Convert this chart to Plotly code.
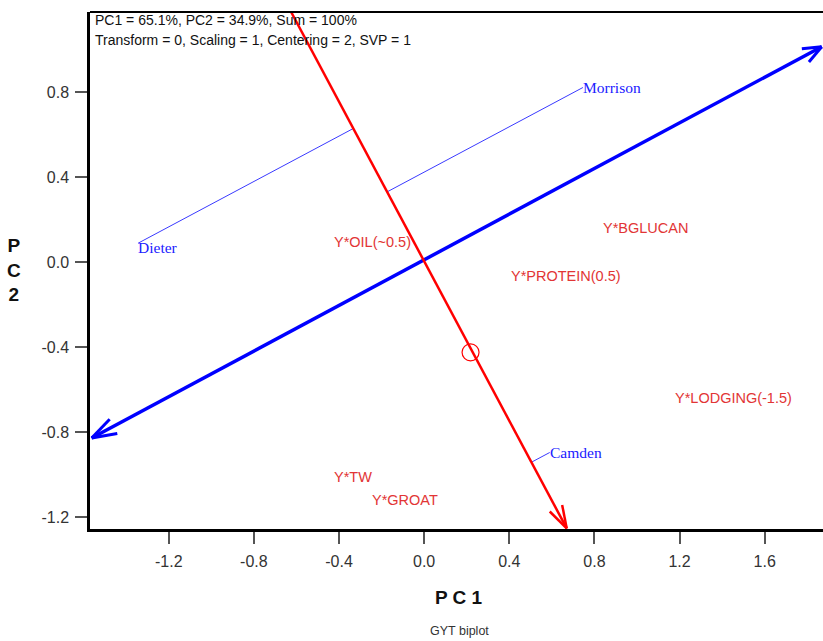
import numpy as np
import plotly.graph_objects as go

# ---------------- data ----------------
genotypes = ["Dieter", "Morrison", "Camden"]
geno_x = [-1.344, 0.746, 0.590]
geno_y = [0.089, 0.821, -0.895]

traits = ["Y*OIL(~0.5)", "Y*BGLUCAN", "Y*PROTEIN(0.5)", "Y*LODGING(-1.5)", "Y*TW", "Y*GROAT"]
trait_x = [-0.245, 1.040, 0.666, 1.454, -0.333, -0.090]
trait_y = [0.095, 0.161, -0.064, -0.639, -1.010, -1.118]

# average tester marker
tester_x = [0.218]
tester_y = [-0.424]

# axis lines (red = ATC abscissa, blue = ATC ordinate)
red_axis_x = [-0.625, 0.670]
red_axis_y = [1.176, -1.252]
blue_axis_x = [-1.562, 1.868]
blue_axis_y = [-0.827, 1.013]

x_ticks = [-1.2, -0.8, -0.4, 0.0, 0.4, 0.8, 1.2, 1.6]
y_ticks = [-1.2, -0.8, -0.4, 0.0, 0.4, 0.8]
x_range = [-1.570, 1.874]
y_range = [-1.2547, 1.176]

info_lines = ["PC1 = 65.1%, PC2 = 34.9%, Sum = 100%",
              "Transform = 0, Scaling = 1, Centering = 2, SVP = 1"]

# ---------------- layout helpers ----------------
W, H = 823, 641
L, R, T, B = 90, 0, 12, 112
PW, PH = W - L - R, H - T - B
SCALE = PW / (x_range[1] - x_range[0])  # px per data unit


def pxx(px):
    return (px - L) / PW


def pxy(py):
    return (H - B - py) / PH


def barbs(tip_x, tip_y, from_x, from_y, length_px, angle_deg):
    d = np.array([from_x - tip_x, from_y - tip_y], dtype=float)
    d /= np.linalg.norm(d)
    out_x, out_y = [], []
    for s in (1, -1):
        a = np.radians(angle_deg * s)
        rot = np.array([d[0] * np.cos(a) - d[1] * np.sin(a),
                        d[0] * np.sin(a) + d[1] * np.cos(a)])
        p = np.array([tip_x, tip_y]) + rot * length_px / SCALE
        out_x += [tip_x, p[0], None]
        out_y += [tip_y, p[1], None]
    return out_x, out_y


fig = go.Figure()

# projections of genotypes onto red axis
dvec = np.array([red_axis_x[1] - red_axis_x[0], red_axis_y[1] - red_axis_y[0]])
dvec /= np.linalg.norm(dvec)
p0 = np.array([red_axis_x[0], red_axis_y[0]])
px_, py_ = [], []
for gx, gy in zip(geno_x, geno_y):
    g = np.array([gx, gy])
    foot = p0 + np.dot(g - p0, dvec) * dvec
    px_ += [gx, foot[0], None]
    py_ += [gy, foot[1], None]
fig.add_trace(go.Scatter(x=px_, y=py_, mode="lines",
                         line=dict(color="#3a3aff", width=1), hoverinfo="skip"))

# blue axis with arrowheads at both ends
fig.add_trace(go.Scatter(x=blue_axis_x, y=blue_axis_y, mode="lines",
                         line=dict(color="#0000ff", width=3.5), hoverinfo="skip"))
bx1, by1 = barbs(blue_axis_x[1], blue_axis_y[1], blue_axis_x[0], blue_axis_y[0], 20, 22)
bx2, by2 = barbs(blue_axis_x[0], blue_axis_y[0], blue_axis_x[1], blue_axis_y[1], 26, 18)
fig.add_trace(go.Scatter(x=bx1 + bx2, y=by1 + by2, mode="lines",
                         line=dict(color="#0000ff", width=3), hoverinfo="skip"))

# red axis with arrowhead
fig.add_trace(go.Scatter(x=red_axis_x, y=red_axis_y, mode="lines",
                         line=dict(color="#ff0000", width=2.5), hoverinfo="skip"))
rx, ry = barbs(red_axis_x[1], red_axis_y[1], red_axis_x[0], red_axis_y[0], 24, 17)
fig.add_trace(go.Scatter(x=rx, y=ry, mode="lines",
                         line=dict(color="#ff0000", width=2.5), hoverinfo="skip"))

# tester circle
fig.add_trace(go.Scatter(x=tester_x, y=tester_y, mode="markers",
                         marker=dict(symbol="circle-open", size=17, color="#ff0000",
                                     line=dict(width=1.2, color="#ff0000")),
                         hoverinfo="skip"))

annotations = []
for name, gx, gy in zip(genotypes, geno_x, geno_y):
    annotations.append(dict(x=gx, y=gy, xref="x", yref="y", text=name, showarrow=False,
                            xanchor="left", yanchor="middle", xshift=-2,
                            yshift=(-4 if name == "Dieter" else 0),
                            font=dict(family="Liberation Serif", size=15.5, color="#2020ff")))
for name, tx, ty in zip(traits, trait_x, trait_y):
    annotations.append(dict(x=tx, y=ty, xref="x", yref="y", text=name, showarrow=False,
                            xanchor="center", yanchor="middle",
                            font=dict(family="Liberation Sans", size=14.5, color="#e23535")))

for i, line in enumerate(info_lines):
    annotations.append(dict(x=pxx(93), y=pxy(20 + 20 * i), xref="paper", yref="paper",
                            text=line, showarrow=False, xanchor="left", yanchor="middle",
                            font=dict(family="Liberation Sans", size=14, color="#111111")))

annotations.append(dict(x=pxx(459), y=pxy(597), xref="paper", yref="paper",
                        text="<b>P C 1</b>", showarrow=False, xanchor="center", yanchor="middle",
                        font=dict(family="Liberation Sans", size=19, color="#111111")))
annotations.append(dict(x=pxx(14), y=pxy(270), xref="paper", yref="paper",
                        text="<b>P<br>C<br>2</b>", showarrow=False, xanchor="center",
                        yanchor="middle",
                        font=dict(family="Liberation Sans", size=19, color="#111111")))
annotations.append(dict(x=pxx(459), y=pxy(631), xref="paper", yref="paper",
                        text="GYT biplot", showarrow=False, xanchor="center", yanchor="middle",
                        font=dict(family="Liberation Sans", size=12.5, color="#333333")))

axis_common = dict(showgrid=False, zeroline=False, showline=True, linecolor="#000000",
                   linewidth=2.5, ticks="outside", ticklen=12, tickwidth=2,
                   tickcolor="#555555", tickfont=dict(family="Liberation Sans", size=16,
                                                      color="#333333"))

fig.update_layout(
    width=W, height=H,
    margin=dict(l=L, r=R, t=T, b=B),
    paper_bgcolor="white", plot_bgcolor="white",
    showlegend=False,
    xaxis=dict(range=x_range, tickvals=x_ticks, ticktext=[f"{v:.1f}" for v in x_ticks],
               ticklabelstandoff=4, **axis_common),
    yaxis=dict(range=y_range, tickvals=y_ticks, ticktext=[f"{v:.1f}" for v in y_ticks],
               ticklabelstandoff=3, **axis_common),
    annotations=annotations,
    shapes=[dict(type="line", xref="paper", yref="paper", x0=0, x1=1, y0=1, y1=1,
                 line=dict(color="#000000", width=2))],
)

fig.write_html(
    "out.html",
    config={"displayModeBar": False},
    post_script="document.body.style.margin='0';document.body.style.padding='0';"
                "document.documentElement.style.overflow='hidden';",
)
